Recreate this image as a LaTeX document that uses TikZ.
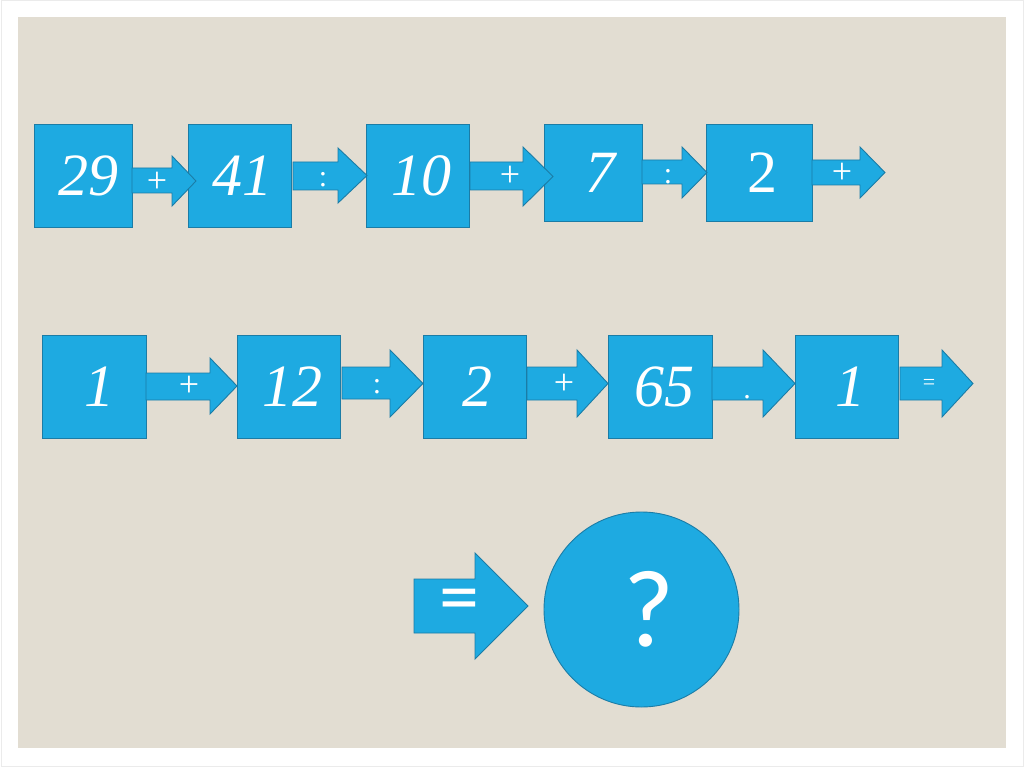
\documentclass[tikz,border=0pt]{standalone}
\usepackage{fontspec}
\setmainfont{Liberation Serif}
\newfontfamily\numfont{Liberation Serif}[ItalicFont={Liberation Serif Italic}]
\newfontfamily\symfont{Carlito}
\definecolor{bgbeige}{HTML}{E2DDD2}
\definecolor{boxfill}{HTML}{1EAAE1}
\definecolor{boxline}{HTML}{1B7CA6}
\definecolor{frameline}{HTML}{EBEBEB}
\tikzset{
  numbox/.style={draw=boxline, fill=boxfill, line width=0.9pt, inner sep=0pt, text=white, font=\numfont\fontsize{60}{60}\selectfont\itshape},
  uprightnum/.style={font=\numfont\fontsize{60}{60}\selectfont\upshape},
  blockarrow/.style={draw=boxline, fill=boxfill, line width=0.9pt, line join=miter},
  oplabel/.style={text=white, inner sep=0pt, font=\numfont\fontsize{36}{36}\selectfont},
  smallop/.style={text=white, inner sep=0pt, font=\numfont\fontsize{30}{30}\selectfont},
  tinyop/.style={text=white, inner sep=0pt, font=\numfont\fontsize{22}{22}\selectfont},
}
\newcommand\sh[1]{\hspace*{#1pt}}
% #1 start x, #2 head x, #3 tip x, #4 shaft top, #5 shaft bottom, #6 head top, #7 head bottom
\newcommand\mybarrow[7]{%
  \draw[blockarrow] (#1,#4) -- (#2,#4) -- (#2,#6) -- (#3,{(#6+#7)/2}) -- (#2,#7) -- (#2,#5) -- (#1,#5) -- cycle;}
\begin{document}
\begin{tikzpicture}[x=1pt,y=-1pt]
\useasboundingbox (0,0) rectangle (1024,767);
\fill[white] (0,0) rectangle (1024,767);
\draw[frameline, line width=1pt] (1,1) rectangle (1023,766);
\fill[bgbeige] (18,17) rectangle (1006,748);

% Row 1 boxes
\node[numbox, minimum width=98pt, minimum height=103pt] (b1) at (83,175.5) {\sh{10}29};
\node[numbox, minimum width=103pt, minimum height=103pt] (b2) at (239.5,175.5) {\sh{5}41};
\node[numbox, minimum width=103pt, minimum height=103pt] (b3) at (417.5,175.5) {\sh{8}10};
\node[numbox, minimum width=98pt, minimum height=97pt] (b4) at (593,172.5) {\sh{14}7};
\node[numbox, uprightnum, minimum width=106pt, minimum height=97pt] (b5) at (759,172.5) {\sh{6}2};

% Row 1 arrows
\mybarrow{132}{172}{196}{168}{193}{156}{206}
\mybarrow{293}{338}{367}{162}{190}{148}{203}
\mybarrow{470}{523}{553}{162}{190}{147}{206}
\mybarrow{642}{682}{707}{160}{184}{147}{198}
\mybarrow{812}{860}{885}{160}{185}{147}{198}
\node[oplabel] (o1) at (157,182) {+};
\node[smallop] (o2) at (323,180) {:};
\node[oplabel] (o3) at (510,176) {+};
\node[smallop] (o4) at (668,177) {:};
\node[oplabel] (o5) at (842,173) {+};

% Row 2 boxes
\node[numbox, minimum width=104pt, minimum height=103pt] (c1) at (94,386.5) {\sh{10}1};
\node[numbox, minimum width=103pt, minimum height=103pt] (c2) at (288.5,386.5) {\sh{7}12};
\node[numbox, minimum width=103pt, minimum height=103pt] (c3) at (474.5,386.5) {\sh{6}2};
\node[numbox, minimum width=104pt, minimum height=103pt] (c4) at (660,386.5) {\sh{8}65};
\node[numbox, minimum width=103pt, minimum height=103pt] (c5) at (846.5,386.5) {\sh{8}1};

% Row 2 arrows
\mybarrow{146}{210}{237}{373}{400}{358}{414}
\mybarrow{342}{390}{423}{367}{399}{350}{417}
\mybarrow{527}{577}{608}{367}{400}{350}{417}
\mybarrow{712}{763}{795}{367}{400}{350}{417}
\mybarrow{900}{942}{973}{367}{400}{350}{417}
\node[oplabel] (p1) at (189,386) {+};
\node[smallop] (p2) at (377,387) {:};
\node[oplabel] (p3) at (564,384) {+};
\node[smallop] (p4) at (747,397) {.};
\node[tinyop] (p5) at (929,384) {=};

% Row 3
\mybarrow{414}{475}{528}{579}{633}{553}{659}
\node[text=white, inner sep=0pt, font=\symfont\fontsize{80}{80}\selectfont] (eq) at (459,606) {=};
\node[draw=boxline, fill=boxfill, line width=0.9pt, circle, minimum size=195pt, inner sep=0pt,
      text=white, font=\symfont\fontsize{110}{110}\selectfont] (res) at (641.5,609.5) {\sh{14}?};
\end{tikzpicture}
\end{document}
